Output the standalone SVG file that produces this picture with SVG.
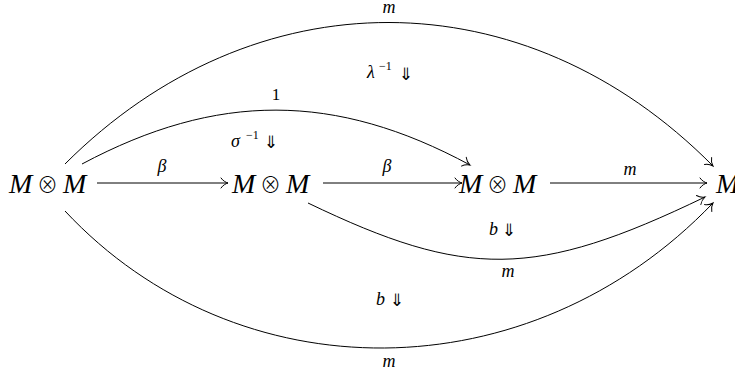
<svg xmlns="http://www.w3.org/2000/svg" width="735" height="375" viewBox="0 0 735 375">
<style>
.node{font-family:"Liberation Serif","DejaVu Serif",serif;font-style:italic;font-size:28px;fill:#000}
.op{font-family:"Noto Sans CJK JP","DejaVu Sans",sans-serif;font-weight:300;font-size:21px;fill:#000}
.lbl{font-family:"Liberation Serif","DejaVu Serif",serif;font-style:italic;font-size:18px;fill:#000}
.up{font-family:"Liberation Serif","DejaVu Serif",serif;font-size:17px;fill:#000}
.sup{font-family:"Liberation Serif","DejaVu Serif",serif;font-size:12px;fill:#000}
.arr{font-family:"DejaVu Sans",sans-serif;font-size:17px;fill:#000}
.edge{fill:none;stroke:#000;stroke-width:1;marker-end:url(#head)}
</style>
<defs>
<marker id="head" markerUnits="userSpaceOnUse" viewBox="-10 -7 12 14" markerWidth="12" markerHeight="14" refX="0" refY="0" orient="auto">
<path d="M-7,-5 C-5,-2 -2,-0.6 0,0 C-2,0.6 -5,2 -7,5" fill="none" stroke="#000" stroke-width="1" stroke-linecap="round"/>
</marker>
</defs>
<g id="n1"><text class="node" x="9" y="193">M</text><text class="op" x="47.5" y="192" text-anchor="middle">⊗</text><text class="node" x="63" y="193">M</text></g>
<g id="n2"><text class="node" x="232" y="193">M</text><text class="op" x="270.5" y="192" text-anchor="middle">⊗</text><text class="node" x="286" y="193">M</text></g>
<g id="n3"><text class="node" x="459" y="193">M</text><text class="op" x="497.5" y="192" text-anchor="middle">⊗</text><text class="node" x="513" y="193">M</text></g>
<g id="n4"><text class="node" x="716" y="193">M</text></g>
<g id="edges">
<path class="edge" d="M97,183 L228,183"/>
<path class="edge" d="M323,183 L462,183"/>
<path class="edge" d="M550,183 L707,183"/>
<path class="edge" d="M65,164 C254,-25 524,-25 713,166"/>
<path class="edge" d="M82,164 C217,92 335,92 470,165"/>
<path class="edge" d="M308,203 C466,279 535,279 705,197"/>
<path class="edge" d="M65,211 C237,395 529,395 713,203"/>
</g>
<g id="labels">
<text class="lbl" x="162" y="172" text-anchor="middle">β</text>
<text class="lbl" x="387" y="172" text-anchor="middle">β</text>
<text class="lbl" x="630" y="175" text-anchor="middle">m</text>
<text class="lbl" x="389" y="13" text-anchor="middle">m</text>
<text class="up" x="276" y="100" text-anchor="middle">1</text>
<text class="lbl" x="367" y="78">λ</text><text class="sup" x="379" y="70">−1</text><text class="arr" x="399" y="80">⇓</text>
<text class="lbl" x="231" y="147">σ</text><text class="sup" x="246" y="139">−1</text><text class="arr" x="264" y="148">⇓</text>
<text class="lbl" x="489" y="235">b</text><text class="arr" x="502" y="236">⇓</text>
<text class="lbl" x="508" y="277" text-anchor="middle">m</text>
<text class="lbl" x="376" y="305">b</text><text class="arr" x="390" y="306">⇓</text>
<text class="lbl" x="389" y="367" text-anchor="middle">m</text>
</g>
</svg>
